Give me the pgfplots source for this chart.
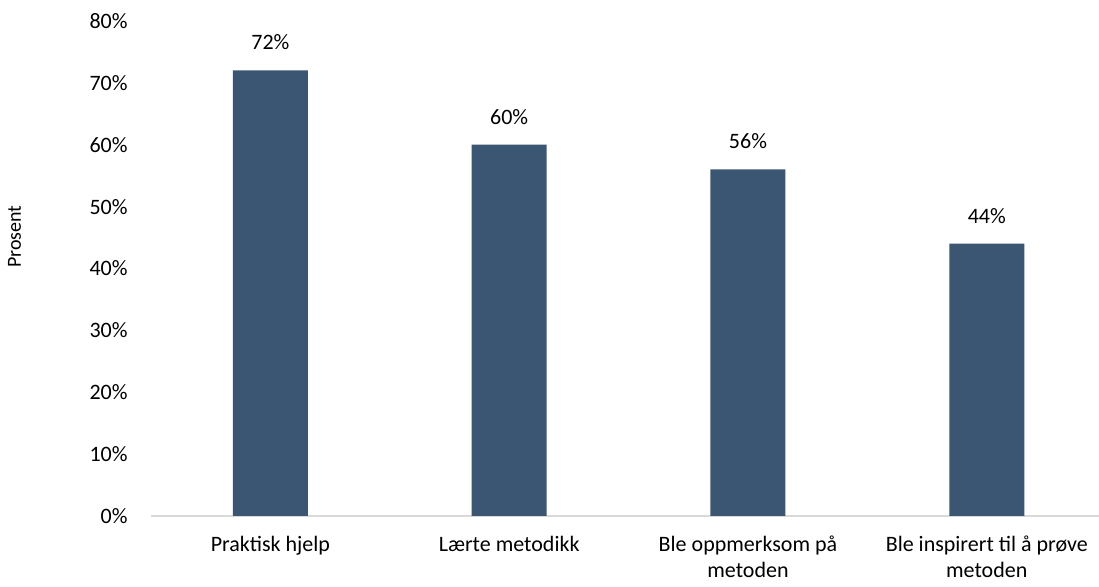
\documentclass[border=0pt]{standalone}
\usepackage{fontspec}
\setmainfont{Carlito}
\usepackage{pgfplots}
\pgfplotsset{compat=1.18}
\definecolor{barblue}{RGB}{59,86,114}
\definecolor{axisgray}{RGB}{217,217,217}
\begin{document}
\begin{tikzpicture}[font=\fontsize{11}{12.5}\selectfont]
\path[use as bounding box] (-75.5pt,-35.5pt) rectangle (474pt,258pt);
\begin{axis}[
  at={(0,0)}, anchor=south west,
  scale only axis, width=474pt, height=247.5pt,
  xmin=-0.5, xmax=3.47, ymin=0, ymax=80,
  ybar, bar width=37.5pt,
  axis x line*=bottom, axis y line*=left,
  x axis line style={-, draw=axisgray, line width=0.75pt},
  y axis line style={draw=none},
  major tick length=0pt,
  xtick=data,
  xticklabels={Praktisk hjelp, Lærte metodikk, {Ble oppmerksom på\\metoden}, {Ble inspirert til å prøve\\metoden}},
  x tick label style={align=center, anchor=north, inner sep=0pt, yshift=-10pt, font=\fontsize{11}{13}\selectfont},
  ytick={0,10,...,80},
  yticklabel={\pgfmathprintnumber{\tick}\%},
  y tick label style={anchor=east, inner sep=0pt, xshift=-11.5pt, font=\fontsize{11}{12.5}\selectfont},
  /pgf/number format/assume math mode=true,
  ylabel={Prosent},
  ylabel style={at={(axis description cs:-0.144,0.564)}, anchor=center, font=\fontsize{10}{12}\selectfont},
  nodes near coords={\pgfmathprintnumber{\pgfplotspointmeta}\%},
  nodes near coords style={anchor=south, inner sep=0pt, yshift=10pt, font=\fontsize{11}{12.5}\selectfont, text=black},
]
\addplot[fill=barblue, draw=none] coordinates {(0,72) (1,60) (2,56) (3,44)};
\end{axis}
\end{tikzpicture}
\end{document}
